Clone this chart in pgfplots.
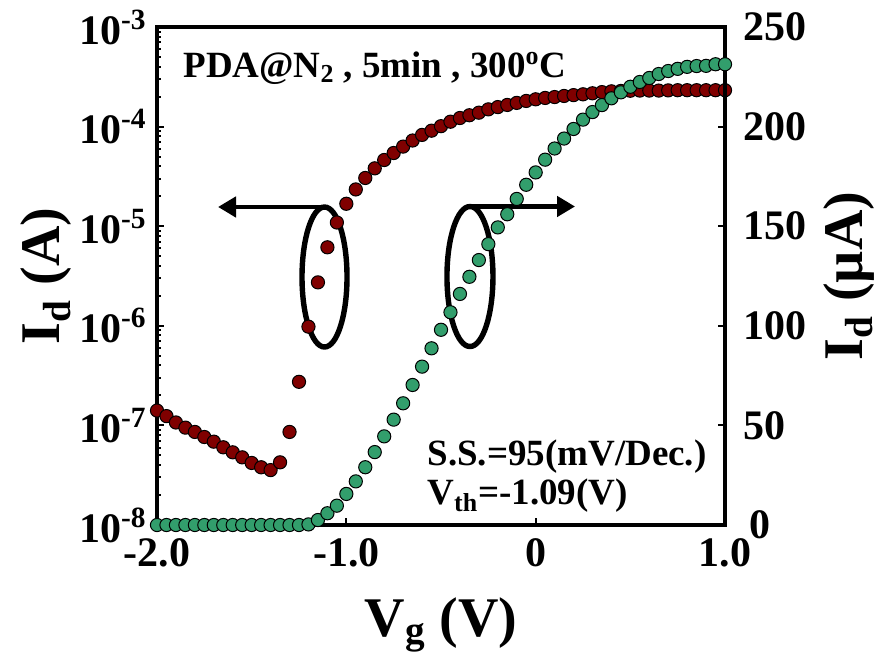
\documentclass[border=0pt]{standalone}
\usepackage{fontspec}
\setmainfont{Liberation Serif}
\usepackage{pgfplots}
\usepackage{pgfplotstable}
\pgfplotsset{compat=1.18}
\usetikzlibrary{arrows.meta}
\definecolor{dotred}{RGB}{128,0,0}
\definecolor{dotgreen}{RGB}{50,158,108}

% log-scale drain current (A), left axis
\pgfplotstableread{
vg id
-2.00 1.41e-7
-1.95 1.24e-7
-1.90 1.07e-7
-1.85 9.5e-8
-1.80 8.6e-8
-1.75 7.65e-8
-1.70 6.87e-8
-1.65 6.03e-8
-1.60 5.37e-8
-1.55 4.78e-8
-1.50 4.2e-8
-1.45 3.8e-8
-1.40 3.56e-8
-1.35 4.26e-8
-1.30 8.6e-8
-1.25 2.74e-7
-1.20 9.8e-7
-1.15 2.73e-6
-1.10 6.14e-6
-1.05 1.09e-5
-1.00 1.68e-5
-0.95 2.34e-5
-0.90 3.05e-5
-0.85 3.81e-5
-0.80 4.62e-5
-0.75 5.43e-5
-0.70 6.3e-5
-0.65 7.25e-5
-0.60 8.25e-5
-0.55 9.1e-5
-0.50 1.01e-4
-0.45 1.12e-4
-0.40 1.22e-4
-0.35 1.30e-4
-0.30 1.38e-4
-0.25 1.49e-4
-0.20 1.57e-4
-0.15 1.65e-4
-0.10 1.73e-4
-0.05 1.81e-4
0.00 1.88e-4
0.05 1.94e-4
0.10 1.98e-4
0.15 2.03e-4
0.20 2.07e-4
0.25 2.11e-4
0.30 2.16e-4
0.35 2.22e-4
0.40 2.26e-4
0.45 2.28e-4
0.50 2.29e-4
0.55 2.30e-4
0.60 2.30e-4
0.65 2.30e-4
0.70 2.31e-4
0.75 2.32e-4
0.80 2.32e-4
0.85 2.32e-4
0.90 2.32e-4
0.95 2.32e-4
1.00 2.32e-4
}\idlog

% linear drain current (uA), right axis
\pgfplotstableread{
vg id
-2.00 0
-1.95 0
-1.90 0
-1.85 0
-1.80 0
-1.75 0
-1.70 0
-1.65 0
-1.60 0
-1.55 0
-1.50 0
-1.45 0
-1.40 0
-1.35 0
-1.30 0
-1.25 0
-1.20 0.3
-1.15 2.5
-1.10 5.9
-1.05 9.7
-1.00 15.6
-0.95 21.9
-0.90 29.0
-0.85 36.6
-0.80 44.5
-0.75 52.9
-0.70 61.1
-0.65 70.3
-0.60 79.5
-0.55 88.7
-0.50 98.0
-0.45 106.8
-0.40 116.0
-0.35 124.6
-0.30 133.0
-0.25 141.0
-0.20 149.4
-0.15 156.0
-0.10 163.7
-0.05 170.8
0.00 177.0
0.05 183.4
0.10 189.0
0.15 194.0
0.20 198.8
0.25 203.5
0.30 207.3
0.35 210.8
0.40 214.2
0.45 217.2
0.50 220.0
0.55 222.4
0.60 224.4
0.65 226.4
0.70 227.9
0.75 229.0
0.80 230.0
0.85 230.4
0.90 230.5
0.95 231.3
1.00 231.3
}\idlin

\tikzset{note/.style={anchor=base west, inner sep=0pt,
  font=\fontsize{18.5}{18.5}\selectfont\bfseries}}

\begin{document}
\begin{tikzpicture}
\pgfplotsset{
  common/.style={
    width=284pt, height=249pt, scale only axis,
    xmin=-2, xmax=1, clip=false,
    axis line style={line width=2pt},
    tick align=inside,
    every tick/.style={black, line width=1pt},
    major tick length=3.5pt, minor tick length=2pt,
    tick label style={font=\fontsize{21}{21}\selectfont\bfseries},
    label style={font=\fontsize{28}{28}\selectfont\bfseries},
  },
  dots/.style={only marks, mark=*, mark size=3.3pt,
    mark options={draw=black, line width=0.5pt, fill=#1}},
}
\begin{axis}[common, name=ax,
  ymode=log, ymin=1e-8, ymax=1e-3,
  xtick pos=bottom, ytick pos=left,
  xtick={-2,-1,0,1}, xticklabels={-2.0,-1.0,0,1.0},
  xticklabel style={anchor=base, yshift=-20.5pt},
  ytick={1e-8,1e-7,1e-6,1e-5,1e-4,1e-3},
  yticklabels={10\textsuperscript{-8},10\textsuperscript{-7},10\textsuperscript{-6},
    10\textsuperscript{-5},10\textsuperscript{-4},10\textsuperscript{-3}},
  yticklabel style={anchor=east, inner sep=0pt, xshift=-5pt},
  xlabel={V\textsubscript{g} (V)},
  xlabel style={at={(axis description cs:0.5,-0.2229)}, anchor=base},
  ylabel={I\textsubscript{d} (A)},
  ylabel style={at={(axis description cs:-0.1708,0.5)}, anchor=base},
]
% ellipses with arrows pointing to each axis
\draw[line width=2.7pt] (rel axis cs:0.2949,0.498) ellipse [x radius=11.25pt, y radius=35pt];
\draw[line width=2.4pt, -{Triangle[length=9pt,width=10pt]}]
  (rel axis cs:0.2949,0.6386) -- (rel axis cs:0.1074,0.6386);
\draw[line width=2.7pt] (rel axis cs:0.551,0.499) ellipse [x radius=11.5pt, y radius=35pt];
\draw[line width=2.4pt, -{Triangle[length=9pt,width=10pt]}]
  (rel axis cs:0.551,0.6396) -- (rel axis cs:0.736,0.6396);

\addplot[dots=dotred] table[x=vg, y=id] {\idlog};

\node[note] at (rel axis cs:0.0458,0.8996) {PDA@N\textsubscript{2} , 5min , 300\textsuperscript{o}C};
\node[note] at (rel axis cs:0.4754,0.1205) {S.S.=95(mV/Dec.)};
\node[note] at (rel axis cs:0.4754,0.0402) {V\textsubscript{th}=-1.09(V)};
\end{axis}

\begin{axis}[common,
  axis x line=none, axis y line*=right,
  ymin=0, ymax=250,
  ytick={0,50,...,250},
  yticklabels={\hspace*{3pt}\raisebox{-6.5pt}{0},50,100,150,200,250},
  yticklabel style={anchor=west, inner sep=0pt, xshift=9pt},
  ylabel={I\textsubscript{d} (µA)},
  ylabel style={at={(axis description cs:1.2412,0.5)}, anchor=base, rotate=0},
]
\addplot[dots=dotgreen] table[x=vg, y=id] {\idlin};
\end{axis}

\pgfresetboundingbox
\path ([xshift=-78.5pt, yshift=-63.5pt]ax.south west) rectangle ([xshift=77pt, yshift=13.5pt]ax.north east);
\end{tikzpicture}
\end{document}
